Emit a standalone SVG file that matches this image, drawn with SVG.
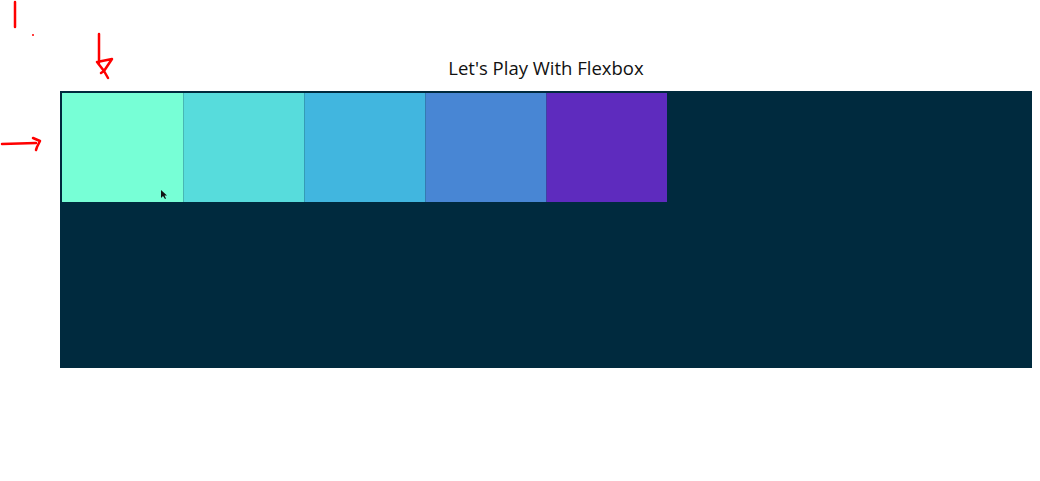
<svg xmlns="http://www.w3.org/2000/svg" width="1040" height="481" viewBox="0 0 1040 481">
<style>
.ink{fill:none;stroke:#ff0000;stroke-width:2.5;stroke-linecap:round;stroke-linejoin:round}
.box{stroke:none}
.title{font-family:"Open Sans","Noto Sans",sans-serif;font-size:18.5px;fill:#111}
</style>
<rect width="1040" height="481" fill="#ffffff"/>
<text class="title" x="546" y="75" text-anchor="middle">Let's Play With Flexbox</text>
<g id="container">
<rect x="60" y="91" width="972" height="277" fill="#002a3e"/>
</g>
<g id="item1"><rect class="box" x="62" y="93" width="121.5" height="109" fill="#77ffd6"/></g>
<g id="item2"><rect class="box" x="183.5" y="93" width="121" height="109" fill="#57dcdc"/></g>
<g id="item3"><rect class="box" x="304.5" y="93" width="121" height="109" fill="#41b6df"/></g>
<g id="item4"><rect class="box" x="425.5" y="93" width="121" height="109" fill="#4886d4"/></g>
<g id="item5"><rect class="box" x="546.5" y="93" width="120.5" height="109" fill="#5e2bbe"/></g>
<path d="M161 190 L161 198 L163 196 L165 199 L166 198.5 L164.5 195.5 L167 195.5 Z" fill="#111"/>
<g id="annotations">
<path class="ink" d="M15 2 L15 27"/>
<circle cx="33" cy="35" r="1" fill="#ff0000"/>
<path class="ink" d="M99 34 L99 63 M97 62 L104 71 L108 78 M97 62 L112 59 L104 71 L101 73"/>
<path class="ink" d="M2 144 L36 143 M33 138 L40 141 L37 147 L36 150"/>
</g>
</svg>
